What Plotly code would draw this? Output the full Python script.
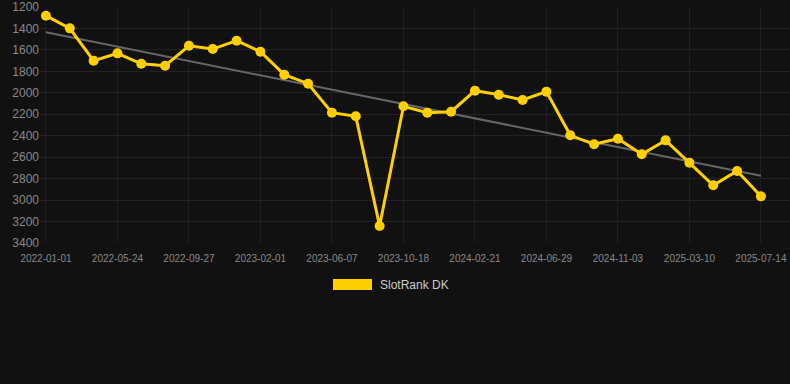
import numpy as np
import plotly.graph_objects as go

dates = [
    "2022-01-01", "2022-02-18", "2022-04-06", "2022-05-24", "2022-07-04", "2022-08-15",
    "2022-09-27", "2022-11-08", "2022-12-20", "2023-02-01", "2023-03-15", "2023-04-26",
    "2023-06-07", "2023-07-21", "2023-09-04", "2023-10-18", "2023-11-29", "2024-01-10",
    "2024-02-21", "2024-04-03", "2024-05-16", "2024-06-29", "2024-08-11", "2024-09-22",
    "2024-11-03", "2024-12-15", "2025-01-26", "2025-03-10", "2025-04-21", "2025-06-02",
    "2025-07-14",
]
ranks = [
    1281, 1399, 1700, 1632, 1729, 1747, 1561, 1592, 1514, 1617, 1831, 1915,
    2185, 2219, 3242, 2126, 2185, 2176, 1980, 2017, 2067, 1989, 2396, 2480,
    2428, 2573, 2443, 2651, 2862, 2729, 2965,
]
tick_dates = dates[::3]
y_ticks = list(range(1200, 3401, 200))
series_name = "SlotRank DK"

idx = np.arange(len(ranks))
slope, intercept = np.polyfit(idx, ranks, 1)
trend = [intercept, intercept + slope * idx[-1]]
trend_x = [dates[0], dates[-1]]

fig = go.Figure()
fig.add_trace(go.Scatter(
    x=trend_x, y=trend, mode="lines",
    line=dict(color="#666666", width=2), hoverinfo="skip", showlegend=False,
))
fig.add_trace(go.Scatter(
    x=dates, y=ranks, mode="lines+markers", name=series_name,
    line=dict(color="#FFD000", width=3),
    marker=dict(color="#FFD000", size=10),
    showlegend=False,
))

L, R, T, B = 40, 0, 7, 141
W, H = 790, 384
pw = W - L - R
ph = H - T - B

def px(xp):
    return (xp - L) / pw

def py(yp):
    return (H - B - yp) / ph

fig.add_shape(type="rect", xref="paper", yref="paper",
              x0=px(333), x1=px(372), y0=py(290), y1=py(279),
              fillcolor="#FFD000", line=dict(width=0))
fig.add_annotation(xref="paper", yref="paper", x=px(378), y=py(285),
                   xanchor="left", yanchor="middle", text=series_name,
                   showarrow=False, font=dict(size=12, color="#CCCCCC"))

fig.update_layout(
    width=W, height=H,
    margin=dict(l=L, r=R, t=T, b=B),
    paper_bgcolor="#111111", plot_bgcolor="#111111",
    font=dict(family="Liberation Sans, Arial, sans-serif", color="#888888"),
    showlegend=False,
)
fig.update_xaxes(
    type="category", categoryorder="array", categoryarray=dates,
    range=[-0.25, 31.22],
    tickmode="array", tickvals=tick_dates, ticktext=tick_dates,
    showgrid=True, gridcolor="#1f1f1f", gridwidth=1,
    zeroline=False, showline=False,
    ticks="outside", ticklen=6, tickcolor="rgba(0,0,0,0)",
    tickfont=dict(size=10, color="#888888"),
)
fig.update_yaxes(
    range=[3400, 1200],
    tickmode="array", tickvals=y_ticks,
    showgrid=True, gridcolor="#222222", gridwidth=1,
    zeroline=False, showline=False,
    tickfont=dict(size=12, color="#888888"),
)

fig.write_html("out.html")
